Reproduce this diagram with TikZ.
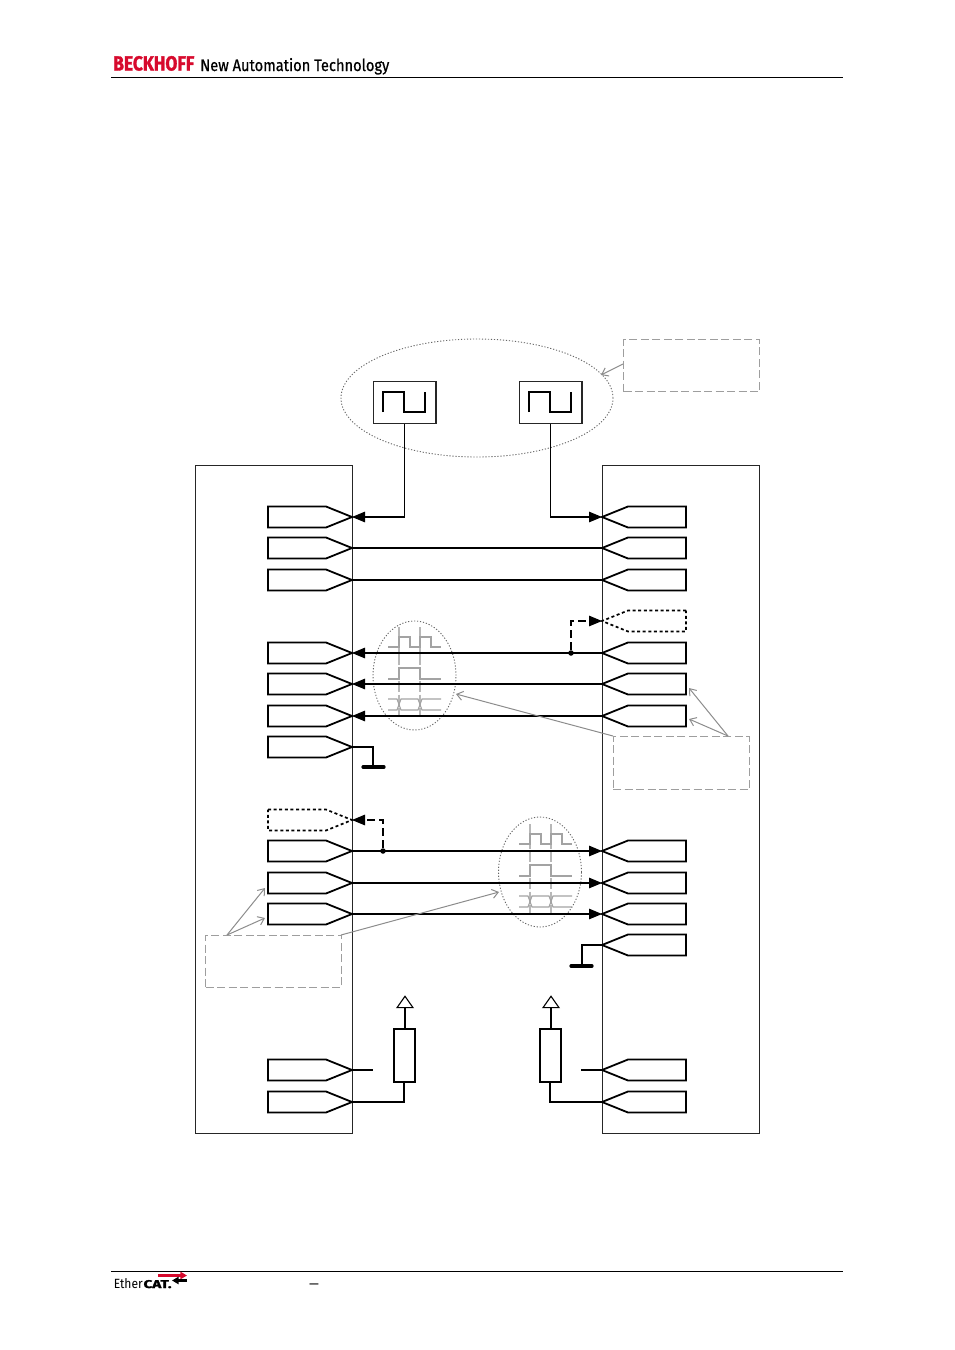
\documentclass[tikz,border=0pt]{standalone}
\usepackage{fontspec}
\usepackage{graphicx}
\setmainfont{Liberation Sans}
\newfontfamily\firafont[BoldFeatures={FakeBold=1.6}]{Fira Sans}
\newfontfamily\slogfont[UprightFeatures={FakeBold=0.7}]{Fira Sans}
\usetikzlibrary{arrows.meta,shapes.geometric}
\definecolor{beckred}{RGB}{215,10,45}
\newlength{\pxu}\setlength{\pxu}{0.75pt}
\tikzset{
  x=0.75pt,y=-0.75pt,
  wire/.style={line width=1.1\pxu,black},
  portline/.style={line width=1.8\pxu,black,line join=miter},
  portdash/.style={line width=1.7\pxu,black,dash pattern=on 3\pxu off 2.6\pxu},
  framebox/.style={draw=black!85,line width=1.2\pxu,fill=none},
  clockbox/.style={draw=black!85,line width=1.3\pxu,minimum width=62.6\pxu,minimum height=41.7\pxu,inner sep=0pt},
  resbox/.style={draw=black,line width=1.5\pxu,minimum width=21.3\pxu,minimum height=53\pxu,inner sep=0pt},
  dashwire/.style={line width=1.1\pxu,black,dash pattern=on 8\pxu off 4\pxu},
  head/.style={-{Triangle[length=9.75pt,width=7.9pt]}},
  callout/.style={draw=black!38,line width=1\pxu,dash pattern=on 8\pxu off 3.5\pxu},
  calloutarrow/.style={draw=black!45,line width=1\pxu,-{Straight Barb[length=4.5pt,width=6.75pt]}},
  zone/.style={draw=black!60,line width=.9\pxu,dash pattern=on 1.2\pxu off 1.8\pxu,fill=none},
  wave/.style={draw=black!36,line width=1.1\pxu},
  waveguide/.style={draw=black!28,line width=1.1\pxu,dash pattern=on 11\pxu off 2.5\pxu},
  gndbar/.style={line width=3.2\pxu,black,line cap=round},
  jdot/.style={circle,fill=black,inner sep=0pt,minimum size=5.5\pxu},
  arrowup/.style={draw=black,line width=1.1\pxu,fill=white},
}
% tip name, y, style
\newcommand{\portleft}[3]{%
  \draw[#3] (268,#2-10.5) -- (326,#2-10.5) -- (352,#2) -- (326,#2+10.5) -- (268,#2+10.5) -- cycle;
  \coordinate (#1) at (352,#2);}
\newcommand{\portright}[3]{%
  \draw[#3] (686,#2-10.5) -- (628,#2-10.5) -- (602,#2) -- (628,#2+10.5) -- (686,#2+10.5) -- cycle;
  \coordinate (#1) at (602,#2);}
% waveforms, shifted by dx, dy
\newcommand{\waves}[2]{%
  \begin{scope}[shift={(#1,#2)}]
    \draw[waveguide] (399,627) -- (399,716);
    \draw[waveguide] (420,627) -- (420,716);
    \draw[wave] (388,647) -- (399,647) -- (399,637) -- (410,637) -- (410,647) -- (420,647) -- (420,637) -- (431,637) -- (431,647) -- (441,647);
    \draw[wave] (388,679) -- (399,679) -- (399,668) -- (420,668) -- (420,679) -- (441,679);
    \draw[wave] (388,699) -- (397,699) -- (401,710) -- (418,710) -- (422,699) -- (441,699);
    \draw[wave] (388,710) -- (397,710) -- (401,699) -- (418,699) -- (422,710) -- (441,710);
  \end{scope}}
\begin{document}
\begin{tikzpicture}
\useasboundingbox (0,0) rectangle (954,1350);
% header and footer
\node[inner sep=0pt,anchor=base west,text=beckred] (brand) at (113,70.5) {\resizebox{81\pxu}{14.5\pxu}{\firafont\bfseries BECKHOFF}};
\node[inner sep=0pt,anchor=base west] (slogan) at (200,71) {\resizebox{189\pxu}{13\pxu}{\slogfont New Automation Technology}};
\coordinate (hl) at (111,77.7); \coordinate (hr) at (843,77.7);
\draw[line width=1.1\pxu] (hl) -- (hr);
\coordinate (fl) at (111,1271.7); \coordinate (fr) at (843,1271.7);
\draw[line width=1.1\pxu] (fl) -- (fr);
\node[inner sep=0pt,anchor=base west] (ether) at (113.5,1288) {\resizebox{29\pxu}{10\pxu}{\firafont Ether}\hspace{.6pt}\resizebox{28\pxu}{8\pxu}{\firafont\bfseries CAT.}};
\coordinate (ra) at (158,1275.5); \coordinate (rb) at (187,1275.5);
\coordinate (ba) at (187,1280.5); \coordinate (bb) at (172,1280.5);
\draw[beckred,line width=2.3\pxu,-{Triangle[length=5pt,width=5.5pt]}] (ra) -- (rb);
\draw[black,line width=2.3\pxu,-{Triangle[length=5pt,width=5.5pt]}] (ba) -- (bb);
\node[inner sep=0pt,anchor=base,font=\fontsize{12pt}{14pt}\selectfont] (dash) at (314,1288) {–};
% device frames
\node[framebox,minimum width=156.7\pxu,minimum height=668\pxu,inner sep=0pt,anchor=north west] (devL) at (195,465) {};
\node[framebox,minimum width=156.7\pxu,minimum height=668\pxu,inner sep=0pt,anchor=north west] (devR) at (602,465) {};
% shared clock zone
\node[zone,ellipse,minimum width=272\pxu,minimum height=118\pxu,inner sep=0pt] (zoneclk) at (477,398) {};
\node[callout,minimum width=136\pxu,minimum height=52\pxu,inner sep=0pt,anchor=north west] (noteclk) at (623,339) {};
\coordinate (noteclkfoot) at (623,364);
\coordinate (zoneclkpt) at (601,375);
\draw[calloutarrow] (noteclkfoot) -- (zoneclkpt);
% clocks
\node[clockbox,anchor=north west] (clkA) at (372.7,381) {};
\node[clockbox,anchor=north west] (clkB) at (518.7,381) {};
\draw[line width=1.3\pxu] (383,412) -- (383,392) -- (404,392) -- (404,412) -- (425,412) -- (425,392);
\draw[line width=1.3\pxu] (529,412) -- (529,392) -- (550,392) -- (550,412) -- (571,412) -- (571,392);
% ports
\foreach \n/\y in {LA/517,LB/548,LC/580,LD/653,LE/684,LF/716,LG/747,LI/851,LJ/883,LK/914,LL/1070,LM/1102}{\portleft{\n}{\y}{portline}}
\foreach \n/\y in {RA/517,RB/548,RC/580,RD/653,RE/684,RF/716,RI/851,RJ/883,RK/914,RL/945,RM/1070,RN/1102}{\portright{\n}{\y}{portline}}
\portleft{LH}{820}{portdash}
\portright{RH}{621}{portdash}
% wave zones
\node[zone,ellipse,minimum width=83\pxu,minimum height=109\pxu,inner sep=0pt] (zoneA) at (414.5,675.5) {};
\node[zone,ellipse,minimum width=83\pxu,minimum height=110\pxu,inner sep=0pt] (zoneB) at (540,872) {};
\waves{0}{0}
\waves{131}{197}
% clock wiring
\draw[wire,head] (clkA.south) |- (LA);
\draw[wire,head] (clkB.south) |- (RA);
\draw[wire] (LB) -- (RB);
\draw[wire] (LC) -- (RC);
% upper bus
\draw[wire,head] (RD) -- (LD);
\draw[wire,head] (RE) -- (LE);
\draw[wire,head] (RF) -- (LF);
\node[jdot] (jA) at (571,653) {};
\draw[dashwire,head] (jA) |- (RH);
% lower bus
\draw[wire,head] (LI) -- (RI);
\draw[wire,head] (LJ) -- (RJ);
\draw[wire,head] (LK) -- (RK);
\node[jdot] (jB) at (383,851) {};
\draw[dashwire,head] (jB) |- (LH);
% grounds
\coordinate (gndLb) at (373,767); \coordinate (gndRb) at (582,966);
\draw[wire] (LG) -| (gndLb);
\draw[gndbar] (363,767) -- (384,767);
\draw[wire] (RL) -| (gndRb);
\draw[gndbar] (571,966) -- (592,966);
% resistors
\node[resbox,anchor=north west] (resA) at (393,1028) {};
\node[resbox,anchor=north west] (resB) at (539,1028) {};
\coordinate (resAt) at (405,1028); \coordinate (resBt) at (551,1028);
\node[arrowup,isosceles triangle,isosceles triangle apex angle=70,shape border rotate=90,inner sep=0pt,minimum height=10\pxu,minimum width=16\pxu] (vccA) at (405,1003.5) {};
\node[arrowup,isosceles triangle,isosceles triangle apex angle=70,shape border rotate=90,inner sep=0pt,minimum height=10\pxu,minimum width=16\pxu] (vccB) at (551,1003.5) {};
\draw[wire] (resAt) -- (vccA.south);
\draw[wire] (resBt) -- (vccB.south);
\coordinate (resAb) at (404,1081); \coordinate (resBb) at (550,1081);
\draw[wire] (resAb) |- (LM);
\draw[wire] (resBb) |- (RN);
\coordinate (stubL) at (373,1070); \coordinate (stubR) at (581,1070);
\draw[wire] (LL) -- (stubL);
\draw[wire] (RM) -- (stubR);
% callouts
\node[callout,minimum width=136\pxu,minimum height=53\pxu,inner sep=0pt,anchor=north west] (noteA) at (612.5,736) {};
\node[callout,minimum width=136\pxu,minimum height=52\pxu,inner sep=0pt,anchor=north west] (noteB) at (205.2,934.7) {};
\coordinate (noteAf) at (613,736); \coordinate (noteAg) at (728,736);
\coordinate (noteBf) at (341,935); \coordinate (noteBg) at (227,935);
\coordinate (tzA) at (456,694); \coordinate (tzB) at (499,892);
\coordinate (tRE) at (689,688); \coordinate (tRF) at (689,719);
\coordinate (tLJ) at (265,888); \coordinate (tLK) at (265,918);
\draw[calloutarrow] (noteAf) -- (tzA);
\draw[calloutarrow] (noteAg) -- (tRE);
\draw[calloutarrow] (noteAg) -- (tRF);
\draw[calloutarrow] (noteBf) -- (tzB);
\draw[calloutarrow] (noteBg) -- (tLJ);
\draw[calloutarrow] (noteBg) -- (tLK);
\end{tikzpicture}
\end{document}
